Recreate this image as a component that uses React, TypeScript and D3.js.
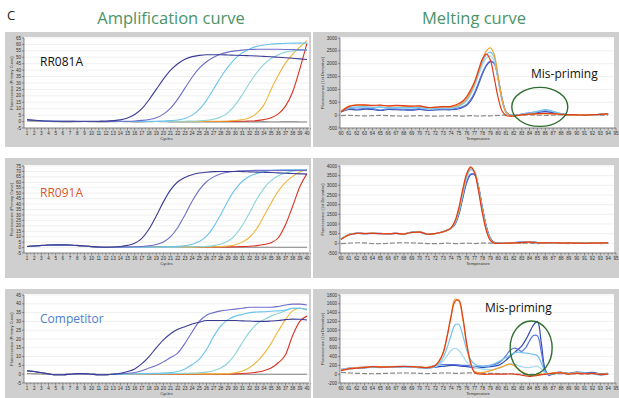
import React from 'react';
import * as d3 from 'd3';

// ---- data ----
const cycles = [1,2,3,4,5,6,7,8,9,10,11,12,13,14,15,16,17,18,19,20,21,22,23,24,25,26,27,28,29,30,31,32,33,34,35,36,37,38,39,40];

// RR081A amplification
const a1Navy = [1.5,1.0,0.6,0.4,0.3,0.3,0.2,0.2,0.2,0.2,0.3,0.4,0.7,1.3,2.8,5.5,10,17,25,33,40,45,48.5,50.5,51.5,52,52,52,51.8,51.6,51.4,51.2,51,50.7,50.4,50,49.6,49.2,48.8,48.3];
const a1Purple = [1.2,0.9,0.5,0.3,0.2,0.2,0.2,0.1,0.1,0.1,0.1,0.1,0.2,0.2,0.3,0.5,0.9,1.6,3,5.8,10.5,17.5,26,34.5,41.5,46.5,50,52.5,54,55,55.6,56,56.2,56.3,56.3,56.2,56.1,56,55.8,55.5];
const a1Sky = [1.0,0.8,0.5,0.3,0.2,0.1,0.1,0.1,0,0,0,0,0,0.1,0.1,0.1,0.1,0.2,0.3,0.4,0.7,1.2,2.4,5,9.5,16.5,25.5,34.5,42.5,49,53.5,56.5,58.5,59.6,60.2,60.6,60.8,61,61,61];
const a1Aqua = [0.9,0.7,0.4,0.2,0.1,0.1,0,0,0,0,0,0,0,0,0,0,0,0.1,0.1,0.1,0.2,0.2,0.3,0.4,0.6,1.0,1.8,3.5,7,13,21,30,38,44.5,49,52,54,55,55.6,56];
const a1Yellow = [0.8,0.6,0.3,0.1,0,0,0,0,0,0,0,0,0,0,0,0,0,0,0,0,0,0.1,0.1,0.1,0.1,0.2,0.2,0.3,0.5,0.8,1.5,3,6.5,13,25,36,45.5,52.5,58,63];
const a1Red = [0.8,0.6,0.3,0.1,0,0,0,0,0,0,0,0,0,0,0,0,0,0,0,0,0,0,0,0,0.1,0.1,0.1,0.1,0.1,0.2,0.2,0.4,0.7,1.5,3,6,12,23,41,61];
const a1Ntc = [0.6,0.4,0.2,0,-0.1,-0.2,-0.2,-0.1,0,-0.1,-0.2,-0.2,-0.1,0,-0.1,-0.2,-0.2,-0.1,0,-0.1,-0.2,-0.2,-0.3,-0.3,-0.2,-0.2,-0.3,-0.3,-0.2,-0.2,-0.3,-0.3,-0.2,-0.2,-0.3,-0.3,-0.2,-0.2,-0.3,-0.3];

// RR091A amplification
const a2Navy = [1,1.5,2,2.3,2.5,2.5,2.3,2,1.5,1,0.5,0.3,0.5,1,2,4,8.5,17,29,42,53,60.5,64.5,67,68.5,69.3,69.8,70,70,70,69.8,69.6,69.4,69.2,69,68.7,68.4,68.1,67.8,67.5];
const a2Purple = [1,1.4,1.9,2.2,2.4,2.4,2.2,1.9,1.4,0.9,0.5,0.3,0.3,0.4,0.5,0.7,1.0,1.6,2.8,5.2,10,18.5,30,42.5,53,60.5,65,67.8,69.3,70.2,70.6,70.9,71,71,71,71,71,71,71,71];
const a2Sky = [1,1.4,1.9,2.2,2.4,2.4,2.2,1.9,1.4,0.9,0.5,0.3,0.3,0.3,0.3,0.3,0.4,0.4,0.5,0.6,0.8,1.1,1.7,3,5.5,10.5,19,30.5,43,53.5,61,65.5,68.2,69.8,70.8,71.3,71.5,71.5,71.5,71.5];
const a2Aqua = [1,1.4,1.9,2.2,2.4,2.4,2.2,1.9,1.4,0.9,0.5,0.3,0.3,0.3,0.3,0.3,0.3,0.3,0.3,0.3,0.4,0.4,0.5,0.6,0.8,1.1,1.8,3.2,6,11.5,20.5,32,44.5,54.5,61.5,66,68.8,70.3,71,71.3];
const a2Yellow = [1,1.4,1.9,2.2,2.4,2.4,2.2,1.9,1.4,0.9,0.5,0.3,0.3,0.3,0.3,0.3,0.3,0.3,0.3,0.3,0.3,0.3,0.4,0.4,0.5,0.6,0.7,0.9,1.4,2.6,5,9.5,17.5,29,41,52,60,65.5,69.5,72];
const a2Red = [1,1.4,1.9,2.2,2.4,2.4,2.2,1.9,1.4,0.9,0.5,0.3,0.3,0.3,0.3,0.3,0.3,0.3,0.3,0.3,0.3,0.3,0.3,0.3,0.4,0.4,0.5,0.5,0.6,0.7,0.9,1.2,1.8,2.8,4.5,9,21,38,56,68];
const a2Ntc = [1,1.5,1.9,2.2,2.3,2.3,2.1,1.8,1.3,0.9,0.5,0.3,0.3,0.4,0.5,0.5,0.5,0.6,0.6,0.6,0.6,0.6,0.6,0.5,0.5,0.4,0.4,0.3,0.3,0.3,0.3,0.3,0.3,0.3,0.3,0.3,0.3,0.3,0.3,0.3];

// Competitor amplification
const a3Navy = [2,1.5,0.8,0.2,-0.3,-0.3,0,0.3,0.3,0,-0.3,-0.3,0,0.5,1.5,3,6,10,15,19.5,23,25.5,27,28.5,29.5,30.5,30.5,30.5,30.5,30.5,30.3,30.2,30,30,30.2,30.5,31,31.3,31.2,30.8];
const a3Purple = [2,1.5,0.8,0.2,-0.3,-0.3,0,0.3,0.3,0,-0.3,-0.3,0,0.2,0.5,1,2,3.5,5,7,9.5,12,17.5,24,30,33.5,35,36,36.5,37,37.5,38,38,38,38,38.5,39.3,39.8,39.8,39.3];
const a3Sky = [2,1.5,0.8,0.2,-0.3,-0.3,0,0.3,0.3,0,-0.3,-0.3,0,0,0.1,0.2,0.3,0.4,0.5,0.6,0.9,1.5,3,5.5,8.5,14,21.5,27.5,31,33,34,35,35.3,35.5,35.8,36,36.5,37.5,37.5,37];
const a3Aqua = [2,1.5,0.8,0.2,-0.3,-0.3,0,0.3,0.3,0,-0.3,-0.3,0,0,0.1,0.1,0.2,0.2,0.3,0.3,0.4,0.4,0.5,0.6,0.8,1.2,2,3.5,6.5,11.5,18,24,28.5,31,33,34.5,36,37.5,37.5,36.5];
const a3Yellow = [2,1.5,0.8,0.2,-0.3,-0.3,0,0.3,0.3,0,-0.3,-0.3,0,0,0,0,0.1,0.1,0.1,0.1,0.2,0.2,0.2,0.2,0.2,0.2,0.2,0.2,0.3,0.8,1.8,3.8,7,11.5,17.5,24.5,31,36,37.5,36.5];
const a3Red = [2,1.5,0.8,0.2,-0.3,-0.3,0,0.3,0.3,0,-0.3,-0.3,0,0,0,0,0,0,0,0,0,0,0,0,0,0,0,0,0.1,0.2,0.4,0.7,1.2,2,3.5,6.5,11,22,30,33];
const a3Ntc = [0.3,0.2,0.1,0,0,0,0,0,0,0,0,0,0,0,0,0,0,0,0,0,0,0,0,0,0,0,0,0,0,0,0,0,0,0,0,0,0,0,0,0];

// melting temperatures (denser around peaks)
const t1 = [60,61,62,63,64,65,66,67,68,69,70,71,72,73,74,75,75.5,76,76.5,77,77.5,78,78.5,79,79.5,80,80.5,81,81.5,82,83,84,85,86,87,88,89,90,91,92,93,94];
const m1Red = [120,330,390,400,380,390,360,380,370,350,360,300,310,330,340,450,550,720,980,1300,1750,2180,2370,2150,1450,680,160,-10,-40,-30,10,40,60,70,60,30,20,10,0,20,30,50];
const m1Orange = [150,350,400,380,370,380,350,370,340,340,350,290,300,320,320,400,500,650,900,1250,1700,2150,2500,2620,2350,1500,600,120,-20,-30,10,30,50,60,50,30,10,0,0,10,30,40];
const m1Sky = [140,300,310,330,300,320,290,300,290,290,300,250,260,280,280,360,450,600,850,1200,1650,2050,2350,2450,2250,1450,600,130,0,-20,30,80,150,220,150,60,20,0,-10,10,30,50];
const m1Pale = [130,280,300,310,290,300,280,290,280,270,290,240,250,270,270,340,420,560,800,1120,1550,1950,2220,2300,2100,1380,560,110,-10,-20,30,70,140,200,140,60,20,0,-10,10,30,50];
const m1Blue = [150,250,230,260,260,200,250,240,230,220,250,200,220,240,230,280,330,420,600,880,1250,1650,1950,2100,2000,1400,600,120,0,-20,40,90,130,180,120,50,20,0,-10,10,30,60];
const m1Navy = [120,220,200,230,220,180,220,210,200,190,220,180,200,210,210,250,300,380,550,820,1200,1600,1920,2080,2020,1450,650,130,0,-20,30,70,110,140,100,40,10,0,-10,10,30,60];
const m1Ntc = [-20,-10,-20,-30,-20,-10,-20,-30,-40,-30,-20,-30,-40,-30,-20,-30,-40,-30,-20,-30,-40,-30,-20,-30,-20,-10,0,10,0,-10,0,10,0,-10,0,10,0,-10,0,10,0,0];

const t2 = [60,61,62,63,64,65,66,67,68,69,70,71,72,73,73.5,74,74.5,75,75.5,76,76.5,77,77.5,78,78.5,79,79.5,80,81,82,83,84,85,86,87,88,89,90,91,92,93,94];
const m2Red = [200,430,520,500,520,500,490,520,480,560,580,470,510,600,680,800,1150,1850,2800,3600,3950,3650,2700,1550,650,150,10,0,10,20,40,60,30,20,30,10,20,10,0,10,20,20];
const m2Orange = [210,440,510,510,530,500,500,510,490,560,590,480,500,590,670,780,1100,1750,2700,3550,3920,3700,2800,1650,700,180,20,0,10,20,40,60,30,20,30,10,20,10,0,10,20,20];
const m2Sky = [220,450,520,500,520,510,490,520,490,570,580,470,510,600,670,780,1080,1700,2600,3450,3850,3700,2850,1700,750,200,30,0,20,30,50,70,40,20,30,10,20,10,0,10,20,20];
const m2Pale = [210,440,510,500,520,500,490,510,480,560,570,460,500,590,660,770,1050,1650,2550,3380,3800,3680,2880,1750,780,220,30,0,20,30,50,70,40,20,30,10,20,10,0,10,20,20];
const m2Blue = [230,460,530,510,520,510,500,520,490,580,590,480,510,610,680,780,1000,1550,2400,3200,3580,3550,2900,1800,850,250,40,0,20,40,70,80,40,20,30,10,20,10,0,10,20,20];
const m2Navy = [220,450,520,500,510,500,490,510,480,570,580,470,500,600,670,770,980,1500,2350,3150,3550,3560,2950,1850,880,270,50,0,20,40,60,80,40,20,30,10,20,10,0,10,20,20];
const m2Ntc = [-10,10,30,20,-10,-20,0,20,30,20,10,-10,-20,0,10,0,-10,-10,0,10,0,-10,0,10,20,10,0,10,20,10,0,10,-10,0,10,0,-10,0,10,0,-10,0];

const t3 = [60,61,62,63,64,65,66,67,68,69,70,71,72,72.5,73,73.5,74,74.5,75,75.5,76,76.5,77,78,79,80,80.5,81,81.5,82,82.5,83,83.5,84,84.5,85,85.5,86,86.5,87,88,89,90,91,92,93,94];
const m3Red = [80,120,140,150,170,160,165,170,175,170,160,150,200,300,480,850,1300,1650,1680,1300,700,260,40,0,0,0,0,0,10,0,-10,-20,-40,-50,-40,-30,-10,0,10,20,30,0,20,10,20,-10,0];
const m3Orange = [90,130,150,160,175,165,170,175,180,170,165,155,210,310,500,870,1320,1700,1660,1250,650,230,60,40,80,140,170,210,230,200,130,60,10,-20,-20,-10,0,10,20,30,40,10,30,10,20,0,10];
const m3Sky = [100,120,140,140,160,150,155,160,165,160,150,140,180,250,380,600,880,1120,1130,880,550,330,230,180,200,280,330,380,430,480,500,490,480,470,450,420,250,50,0,20,30,10,30,20,10,-20,0];
const m3Pale = [110,130,150,150,165,155,160,165,170,165,155,150,170,220,300,420,540,590,540,420,280,200,160,120,100,130,160,200,240,230,200,170,150,150,170,180,120,20,0,20,30,10,30,20,10,-10,0];
const m3Blue = [110,140,150,160,170,160,160,170,180,175,160,150,200,210,220,220,220,220,210,200,200,190,180,180,200,250,320,420,540,590,570,520,600,760,880,870,500,60,-30,20,40,10,40,20,30,0,10];
const m3Navy = [100,130,140,150,160,155,160,165,170,165,150,140,160,170,180,190,200,200,190,180,170,160,150,150,170,200,250,320,400,480,560,640,780,950,1120,1200,700,100,-20,30,40,20,50,30,40,10,20];
const m3Ntc = [40,30,20,15,10,15,20,25,30,25,20,15,20,25,30,30,25,20,20,25,30,30,25,20,20,15,10,10,5,5,0,0,0,0,-5,-5,0,0,0,0,10,0,10,0,10,0,0];

const ampColors = { ntc: '#808080', red: '#dd3120', yellow: '#f0b43a', aqua: '#8ad3d8', sky: '#6cc3ec', purple: '#6e6ecb', navy: '#3b3b95' };
const meltColors = { ntc: '#8a8a8a', red: '#e03c1c', orange: '#f3a12c', sky: '#74c2ee', pale: '#a3d8ee', blue: '#5a74dc', navy: '#2d4bb0' };

const rows = [
  { frameTop: 32, frameBottom: 147, plotTop: 38, plotBottom: 128 },
  { frameTop: 158, frameBottom: 278, plotTop: 166, plotBottom: 253 },
  { frameTop: 289, frameBottom: 400, plotTop: 295, plotBottom: 383 },
];

const tickFont = { fontFamily: 'Liberation Sans, Arial, sans-serif', fontSize: 4.6, fill: '#333' };

const Frame = ({ x0, x1, plotLeft, plotRight, row }) => (
  <g>
    <rect x={x0} y={row.frameTop} width={x1 - x0} height={row.frameBottom - row.frameTop} fill="#cfcfcf" />
    <rect x={plotLeft} y={row.plotTop - 1} width={plotRight - plotLeft} height={row.plotBottom - row.plotTop + 1} fill="#fff" />
  </g>
);

const YAxis = ({ y, ticks, left, right, title, fmt }) => (
  <g>
    {ticks.map(t => (
      <line key={'g' + t} x1={left} x2={right} y1={y(t)} y2={y(t)} stroke="#e6e6e6" strokeWidth={0.6} />
    ))}
    <line x1={left} x2={left} y1={y(ticks[0])} y2={y(ticks[ticks.length - 1])} stroke="#444" strokeWidth={0.6} />
    {ticks.map(t => (
      <g key={'t' + t}>
        <line x1={left - 2} x2={left} y1={y(t)} y2={y(t)} stroke="#444" strokeWidth={0.5} />
        <text x={left - 3} y={y(t) + 1.6} textAnchor="end" {...tickFont}>{fmt(t)}</text>
      </g>
    ))}
    <text
      transform={`translate(${left - (fmt(ticks[ticks.length - 1]).length > 2 ? 16 : 11)},${(y(ticks[0]) + y(ticks[ticks.length - 1])) / 2}) rotate(-90)`}
      textAnchor="middle" {...tickFont} fontSize={4}
    >{title}</text>
  </g>
);

const XAxis = ({ x, ticks, bottom, left, right, title }) => (
  <g>
    <line x1={left} x2={right} y1={bottom} y2={bottom} stroke="#444" strokeWidth={0.6} />
    {ticks.map(t => (
      <g key={t}>
        <line x1={x(t)} x2={x(t)} y1={bottom} y2={bottom + 2.6} stroke="#444" strokeWidth={0.5} />
        <line x1={x(t + 0.5)} x2={x(t + 0.5)} y1={bottom} y2={bottom + 1.4} stroke="#444" strokeWidth={0.4} />
        <text x={x(t)} y={bottom + 7} textAnchor="middle" {...tickFont}>{t}</text>
      </g>
    ))}
    <text x={(left + right) / 2} y={bottom + 12} textAnchor="middle" {...tickFont} fontSize={4.2}>{title}</text>
  </g>
);

const AmpPanel = ({ row, yMax, series, label, labelColor, labelY }) => {
  const plotLeft = 24, plotRight = 309;
  const x = d3.scaleLinear().domain([1, 40]).range([27, 307]);
  const y = d3.scaleLinear().domain([-5, yMax]).range([row.plotBottom, row.plotTop]);
  const yTicks = d3.range(-5, yMax + 1, 5);
  const line = d3.line().x((d, i) => x(cycles[i])).y(d => y(d)).curve(d3.curveMonotoneX);
  return (
    <g>
      <Frame x0={5} x1={311} plotLeft={plotLeft} plotRight={plotRight} row={row} />
      <YAxis y={y} ticks={yTicks} left={plotLeft} right={plotRight} title="Fluorescence (Primary Curve)" fmt={d => String(d)} />
      <XAxis x={x} ticks={cycles} bottom={row.plotBottom} left={plotLeft} right={plotRight} title="Cycles" />
      {series.map(s => (
        <path key={s.key} d={line(s.values)} fill="none" stroke={s.color} strokeWidth={1.1} />
      ))}
      <text x={40} y={labelY} fontFamily="Open Sans, sans-serif" fontSize={12} fill={labelColor}>{label}</text>
    </g>
  );
};

const MeltPanel = ({ row, yMin, yMax, step, temps, series, note }) => {
  const plotLeft = 340, plotRight = 614;
  const x = d3.scaleLinear().domain([60, 95]).range([341, 616]);
  const y = d3.scaleLinear().domain([yMin, yMax]).range([row.plotBottom, row.plotTop]);
  const yTicks = d3.range(yMin, yMax + 1, step);
  const xTicks = d3.range(60, 96);
  const line = d3.line().x((d, i) => x(temps[i])).y(d => y(d)).curve(d3.curveCatmullRom.alpha(0.5));
  return (
    <g>
      <Frame x0={313} x1={619} plotLeft={plotLeft} plotRight={plotRight} row={row} />
      <YAxis y={y} ticks={yTicks} left={plotLeft} right={plotRight} title="Fluorescence (1st Derivative)" fmt={d => String(d)} />
      <XAxis x={x} ticks={xTicks} bottom={row.plotBottom} left={plotLeft} right={616} title="Temperature" />
      {series.map(s => (
        <path key={s.key} d={line(s.values)} fill="none" stroke={s.color} strokeWidth={1.2}
          strokeDasharray={s.key === 'ntc' ? '5 2' : undefined} />
      ))}
      {note && (
        <g>
          <text x={note.tx} y={note.ty} fontFamily="Open Sans, sans-serif" fontSize={12} fill="#111">Mis-priming</text>
          <ellipse cx={x(note.temp)} cy={y(note.value)} rx={note.rx} ry={note.ry} fill="none" stroke="#2f6f2f" strokeWidth={1.4} />
        </g>
      )}
    </g>
  );
};

const ampSeries = (ntc, red, yellow, aqua, sky, purple, navy) => [
  { key: 'ntc', color: ampColors.ntc, values: ntc },
  { key: 'red', color: ampColors.red, values: red },
  { key: 'yellow', color: ampColors.yellow, values: yellow },
  { key: 'aqua', color: ampColors.aqua, values: aqua },
  { key: 'sky', color: ampColors.sky, values: sky },
  { key: 'purple', color: ampColors.purple, values: purple },
  { key: 'navy', color: ampColors.navy, values: navy },
];

const meltSeries = (ntc, navy, blue, pale, sky, orange, red) => [
  { key: 'ntc', color: meltColors.ntc, values: ntc },
  { key: 'navy', color: meltColors.navy, values: navy },
  { key: 'blue', color: meltColors.blue, values: blue },
  { key: 'pale', color: meltColors.pale, values: pale },
  { key: 'sky', color: meltColors.sky, values: sky },
  { key: 'orange', color: meltColors.orange, values: orange },
  { key: 'red', color: meltColors.red, values: red },
];

export default function App() {
  const green = '#4a9468';
  return (
    <svg width={619} height={398} style={{ position: 'absolute', left: 0, top: 0, background: '#fff' }}>
      <text x={7} y={20} fontFamily="Open Sans, sans-serif" fontSize={13} fill="#222">C</text>
      <text x={171} y={24} textAnchor="middle" fontFamily="Open Sans, sans-serif" fontSize={16.5} fill={green}>Amplification curve</text>
      <text x={474} y={24} textAnchor="middle" fontFamily="Open Sans, sans-serif" fontSize={16.5} fill={green}>Melting curve</text>

      <AmpPanel row={rows[0]} yMax={65} label="RR081A" labelColor="#111" labelY={66}
        series={ampSeries(a1Ntc, a1Red, a1Yellow, a1Aqua, a1Sky, a1Purple, a1Navy)} />
      <AmpPanel row={rows[1]} yMax={75} label="RR091A" labelColor="#d9572b" labelY={197}
        series={ampSeries(a2Ntc, a2Red, a2Yellow, a2Aqua, a2Sky, a2Purple, a2Navy)} />
      <AmpPanel row={rows[2]} yMax={45} label="Competitor" labelColor="#4d7fcf" labelY={323}
        series={ampSeries(a3Ntc, a3Red, a3Yellow, a3Aqua, a3Sky, a3Purple, a3Navy)} />

      <MeltPanel row={rows[0]} yMin={-500} yMax={3000} step={500} temps={t1}
        series={meltSeries(m1Ntc, m1Navy, m1Blue, m1Pale, m1Sky, m1Orange, m1Red)}
        note={{ tx: 531, ty: 78, temp: 85.3, value: 320, rx: 28, ry: 19.5 }} />
      <MeltPanel row={rows[1]} yMin={-500} yMax={4000} step={500} temps={t2}
        series={meltSeries(m2Ntc, m2Navy, m2Blue, m2Pale, m2Sky, m2Orange, m2Red)} />
      <MeltPanel row={rows[2]} yMin={-200} yMax={1800} step={200} temps={t3}
        series={meltSeries(m3Ntc, m3Navy, m3Blue, m3Pale, m3Sky, m3Orange, m3Red)}
        note={{ tx: 485, ty: 312, temp: 84.2, value: 595, rx: 21, ry: 27 }} />
    </svg>
  );
}
